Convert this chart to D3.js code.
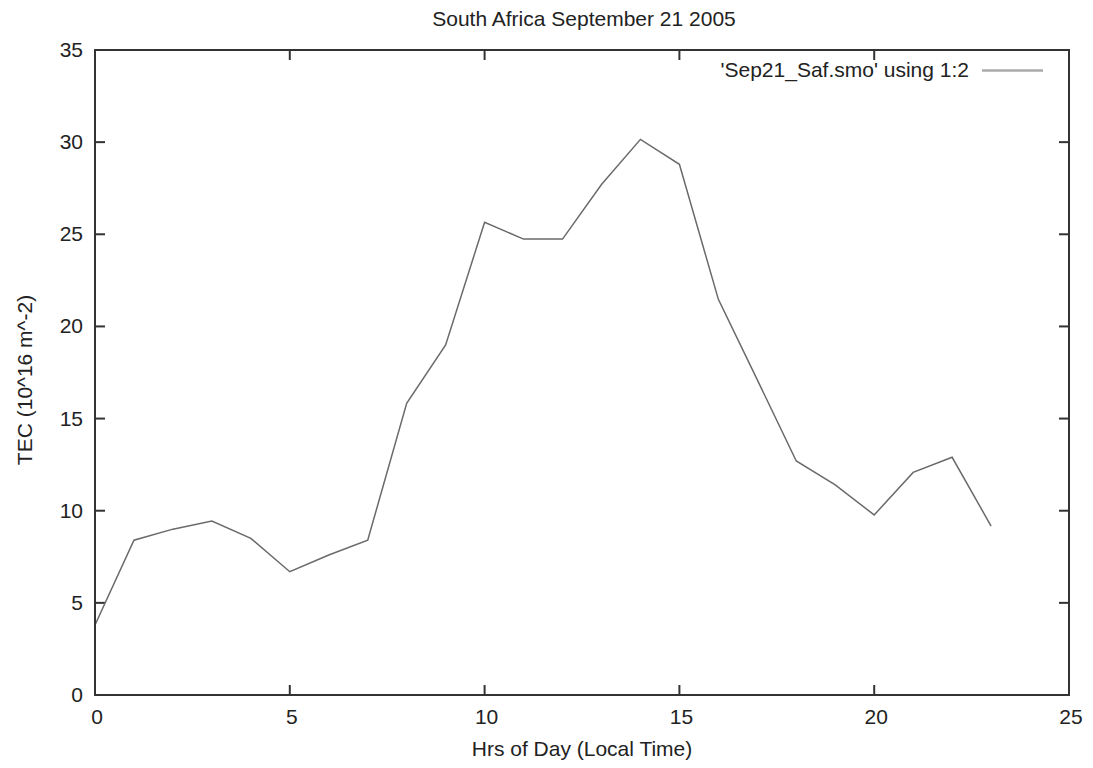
<!DOCTYPE html>
<html>
<head>
<meta charset="utf-8">
<script src="https://cdn.jsdelivr.net/npm/d3@7"></script>
<style>
  html, body { margin: 0; padding: 0; background: #fff; }
  svg { display: block; font-family: "Liberation Sans", Arial, sans-serif; }
</style>
</head>
<body>
<svg id="chart" width="1093" height="768"></svg>
<script>
// Hourly TEC readings, South Africa, 21 Sep 2005
const hours = [0, 1, 2, 3, 4, 5, 6, 7, 8, 9, 10, 11, 12, 13, 14, 15, 16, 17, 18, 19, 20, 21, 22, 23];
const tec = [3.8, 8.4, 9.0, 9.44, 8.5, 6.69, 7.6, 8.4, 15.83, 19.0, 25.65, 24.74, 24.74, 27.7, 30.15, 28.8, 21.47, 17.1, 12.7, 11.4, 9.77, 12.08, 12.9, 9.17];
const xTicks = [0, 5, 10, 15, 20, 25];
const yTicks = [0, 5, 10, 15, 20, 25, 30, 35];

const titleText = "South Africa September 21 2005";
const xLabel = "Hrs of Day (Local Time)";
const yLabel = "TEC (10^16 m^-2)";
const legendText = "'Sep21_Saf.smo' using 1:2";

const svg = d3.select("#chart");
const plotLeft = 95, plotRight = 1069, plotTop = 50, plotBottom = 695;

const x = d3.scaleLinear().domain([0, 25]).range([plotLeft, plotRight]);
const y = d3.scaleLinear().domain([0, 35]).range([plotBottom, plotTop]);

const tickLen = 10;
const axisColor = "#333";
const textColor = "#222";
const fontSize = 21;

// Tick marks on all four sides, pointing inward
const ticks = svg.append("g").attr("stroke", axisColor).attr("stroke-width", 2);
xTicks.forEach(t => {
  ticks.append("line").attr("x1", x(t)).attr("x2", x(t)).attr("y1", plotBottom).attr("y2", plotBottom - tickLen);
  ticks.append("line").attr("x1", x(t)).attr("x2", x(t)).attr("y1", plotTop).attr("y2", plotTop + tickLen);
});
yTicks.forEach(t => {
  ticks.append("line").attr("x1", plotLeft).attr("x2", plotLeft + tickLen).attr("y1", y(t)).attr("y2", y(t));
  ticks.append("line").attr("x1", plotRight).attr("x2", plotRight - tickLen).attr("y1", y(t)).attr("y2", y(t));
});

// Tick labels
svg.append("g").selectAll("text").data(xTicks).join("text")
  .attr("x", d => x(d) + 2).attr("y", 724)
  .attr("text-anchor", "middle").attr("font-size", fontSize).attr("fill", textColor)
  .text(d => d);
svg.append("g").selectAll("text").data(yTicks).join("text")
  .attr("x", 83).attr("y", d => y(d) + 7)
  .attr("text-anchor", "end").attr("font-size", fontSize).attr("fill", textColor)
  .text(d => d);

// Data line
const line = d3.line().x((d, i) => x(hours[i])).y(d => y(d));
svg.append("path").datum(tec)
  .attr("d", line).attr("fill", "none")
  .attr("stroke", "#6a6a6a").attr("stroke-width", 1.5);

// Plot frame
svg.append("rect")
  .attr("x", plotLeft).attr("y", plotTop)
  .attr("width", plotRight - plotLeft).attr("height", plotBottom - plotTop)
  .attr("fill", "none").attr("stroke", axisColor).attr("stroke-width", 2);

// Legend
svg.append("text").attr("x", 969).attr("y", 77)
  .attr("text-anchor", "end").attr("font-size", fontSize).attr("fill", textColor)
  .text(legendText);
svg.append("line").attr("x1", 982).attr("x2", 1043).attr("y1", 70.5).attr("y2", 70.5)
  .attr("stroke", "#aaa").attr("stroke-width", 2.5);

// Title and axis labels
svg.append("text").attr("x", 584).attr("y", 26)
  .attr("text-anchor", "middle").attr("font-size", fontSize).attr("fill", textColor)
  .text(titleText);
svg.append("text").attr("x", 582).attr("y", 756)
  .attr("text-anchor", "middle").attr("font-size", fontSize).attr("fill", textColor)
  .text(xLabel);
svg.append("text")
  .attr("transform", "translate(32,380) rotate(-90)")
  .attr("text-anchor", "middle").attr("font-size", fontSize).attr("fill", textColor)
  .text(yLabel);
</script>
</body>
</html>
